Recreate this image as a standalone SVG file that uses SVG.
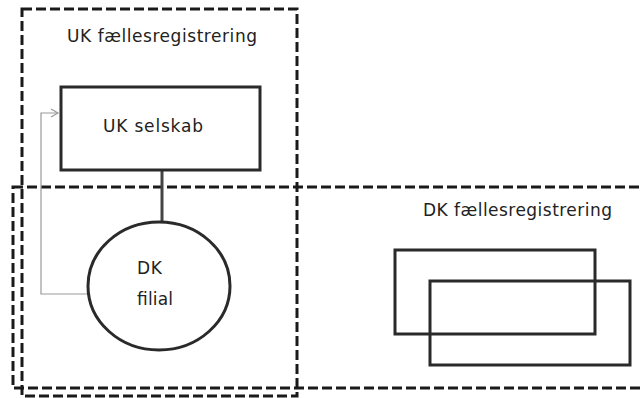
<svg xmlns="http://www.w3.org/2000/svg" width="642" height="398" viewBox="0 0 642 398">
<style>
.zone{fill:none;stroke:#1a1a1a;stroke-width:3;stroke-dasharray:10 4}
.box{fill:none;stroke:#2a2a2a;stroke-width:3}
.lbl{font-family:"DejaVu Sans",sans-serif;font-size:17px;fill:#222}
.conn{fill:none;stroke:#444;stroke-width:3}
.thin{fill:none;stroke:#999;stroke-width:1.2}
</style>
<defs>
<marker id="open" markerWidth="10" markerHeight="10" refX="8" refY="5" orient="auto" markerUnits="userSpaceOnUse">
<path d="M1,1 L8,5 L1,9" fill="none" stroke="#999" stroke-width="1.2"/>
</marker>
</defs>
<rect width="642" height="398" fill="#fff"/>
<g id="uk-zone">
<rect class="zone" x="22" y="9" width="275" height="387"/>
<text class="lbl" x="67" y="42" textLength="190" lengthAdjust="spacing">UK fællesregistrering</text>
</g>
<g id="dk-zone">
<rect class="zone" x="13" y="187" width="640" height="201"/>
<text class="lbl" x="423" y="216" textLength="189" lengthAdjust="spacing">DK fællesregistrering</text>
</g>
<g id="connectors">
<line class="conn" x1="162" y1="170" x2="162" y2="222"/>
<path class="thin" d="M88,294 H41 V113 H58" marker-end="url(#open)"/>
</g>
<g id="uk-selskab">
<rect class="box" x="61" y="87" width="199" height="83"/>
<text class="lbl" x="103" y="132" textLength="100" lengthAdjust="spacing">UK selskab</text>
</g>
<g id="dk-filial">
<ellipse class="box" cx="159" cy="286" rx="71" ry="64"/>
<text class="lbl" x="137" y="274" textLength="25" lengthAdjust="spacing">DK</text>
<text class="lbl" x="137" y="305" textLength="36" lengthAdjust="spacing">filial</text>
</g>
<g id="dk-box1">
<rect class="box" x="395" y="250" width="200" height="84"/>
</g>
<g id="dk-box2">
<rect class="box" x="430" y="281" width="200" height="84"/>
</g>
</svg>
